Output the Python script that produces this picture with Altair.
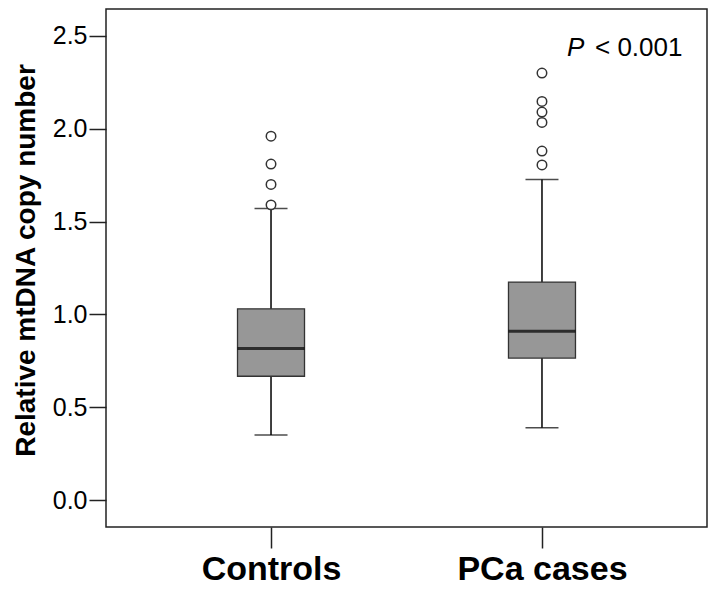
import altair as alt
import pandas as pd

# ---- data ----
categories = ["Controls", "PCa cases"]
whisker_low = [0.35, 0.39]
q1 = [0.667, 0.765]
median = [0.817, 0.910]
q3 = [1.030, 1.174]
whisker_high = [1.570, 1.726]
outliers_controls = [1.59, 1.70, 1.81, 1.96]
outliers_cases = [1.805, 1.88, 2.034, 2.09, 2.147, 2.30]
y_ticks = [0.0, 0.5, 1.0, 1.5, 2.0, 2.5]
annot_group = ["PCa cases"]
annot_value = [2.392]
annot_italic = ["P"]
annot_rest = ["< 0.001"]

box_df = pd.DataFrame({
    "group": categories,
    "low": whisker_low,
    "q1": q1,
    "median": median,
    "q3": q3,
    "high": whisker_high,
})
out_df = pd.DataFrame({
    "group": ["Controls"] * len(outliers_controls) + ["PCa cases"] * len(outliers_cases),
    "value": outliers_controls + outliers_cases,
})
ann_df = pd.DataFrame({"group": annot_group, "value": annot_value,
                       "p": annot_italic, "rest": annot_rest})

FONT = "Liberation Sans"
DARK = "#222222"

x_scale = alt.Scale(type="point", domain=categories, padding=0.609)
y_scale = alt.Scale(domain=[-0.145, 2.645], nice=False, zero=False)

x_axis = alt.Axis(title=None, labelAngle=0, labelFont=FONT, labelFontSize=34,
                  labelFontWeight="bold", labelColor="black", tickSize=21,
                  tickColor=DARK, tickWidth=1.5, domain=False, labelPadding=4,
                  grid=False)
y_axis = alt.Axis(title="Relative mtDNA copy number", values=y_ticks, format=".1f",
                  labelFont=FONT, labelFontSize=25, labelColor="black",
                  tickSize=17, tickWidth=1.5, tickColor=DARK, labelPadding=2,
                  domain=False, grid=False, titleFont=FONT, titleFontSize=28,
                  titleFontWeight="bold", titleColor="black", titleX=-72,
                  titleY=251, titleBaseline="alphabetic")


def X():
    return alt.X("group:N", scale=x_scale, axis=x_axis)


def Y(field):
    return alt.Y(f"{field}:Q", scale=y_scale, axis=y_axis)


base = alt.Chart(box_df)

whisker = base.mark_rule(color="black", strokeWidth=1.5).encode(
    x=X(), y=Y("low"), y2="high:Q")
box = base.mark_bar(size=67, color="#979797", stroke="#333333",
                    strokeWidth=1.3).encode(x=X(), y=Y("q1"), y2="q3:Q")
med = base.mark_tick(size=67, thickness=3, color="black").encode(
    x=X(), y=Y("median"))
cap_low = base.mark_tick(size=33, thickness=1.5, color="black").encode(
    x=X(), y=Y("low"))
cap_high = base.mark_tick(size=33, thickness=1.5, color="black").encode(
    x=X(), y=Y("high"))

points = alt.Chart(out_df).mark_point(shape="circle", size=90, filled=False,
                                      fill="white", color="#333333",
                                      strokeWidth=1.5, opacity=1).encode(
    x=X(), y=Y("value"))

ann_p = alt.Chart(ann_df).mark_text(align="left", baseline="alphabetic", dx=25,
                                    font=FONT, fontSize=26, fontStyle="italic",
                                    color="black").encode(
    x=X(), y=Y("value"), text="p:N")
ann_rest = alt.Chart(ann_df).mark_text(align="left", baseline="alphabetic", dx=53,
                                       font=FONT, fontSize=26,
                                       color="black").encode(
    x=X(), y=Y("value"), text="rest:N")

chart = alt.layer(whisker, box, med, cap_low, cap_high, points, ann_p, ann_rest).properties(
    width=601,
    height=518,
    autosize=alt.AutoSizeParams(type="none"),
    padding={"left": 98, "top": 1, "right": 1, "bottom": 61},
    background="white",
).configure_view(stroke=DARK, strokeWidth=1.5)

chart.save("out.html", embed_options={"renderer": "svg", "actions": False})
